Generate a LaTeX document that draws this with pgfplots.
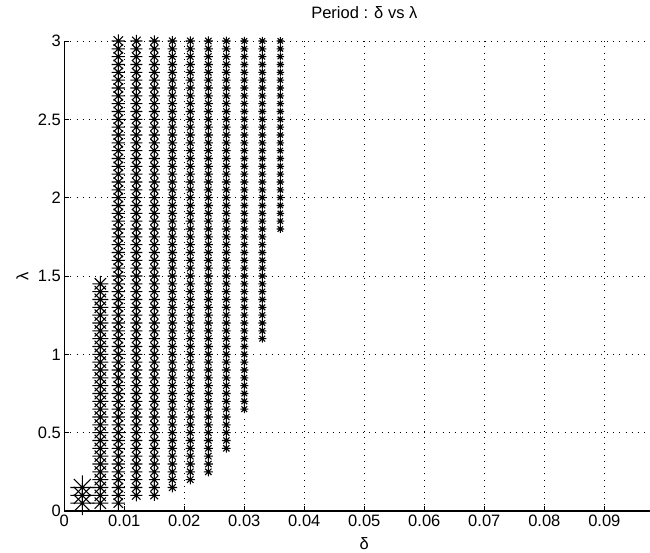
\documentclass[border=0pt]{standalone}
\usepackage{fontspec}
\setmainfont{Liberation Sans}
\usepackage{pgfplots}
\usepackage{pgfplotstable}
\pgfplotsset{compat=1.18}

% MATLAB style '*' marker: a plus and a cross on top of each other
\pgfdeclareplotmark{mstar}{%
  \pgfpathmoveto{\pgfqpoint{0pt}{\pgfplotmarksize}}%
  \pgfpathlineto{\pgfqpoint{0pt}{-\pgfplotmarksize}}%
  \pgfpathmoveto{\pgfqpoint{\pgfplotmarksize}{0pt}}%
  \pgfpathlineto{\pgfqpoint{-\pgfplotmarksize}{0pt}}%
  \pgfpathmoveto{\pgfqpoint{.707\pgfplotmarksize}{.707\pgfplotmarksize}}%
  \pgfpathlineto{\pgfqpoint{-.707\pgfplotmarksize}{-.707\pgfplotmarksize}}%
  \pgfpathmoveto{\pgfqpoint{-.707\pgfplotmarksize}{.707\pgfplotmarksize}}%
  \pgfpathlineto{\pgfqpoint{.707\pgfplotmarksize}{-.707\pgfplotmarksize}}%
  \pgfusepathqstroke}

\pgfplotsset{ms/.style={only marks, mark=mstar, mark size=#1, black,
    mark options={black, line width=1.1pt}}}

\begin{document}
% lambda, then the delta of each column (nan = no point)
\pgfplotstableread{
lam  d1    d2    d3    d4    d5    d6    d7    d8    d9    d10   d11   d12
0.05 0.003 0.006 0.009 nan   nan   nan   nan   nan   nan   nan   nan   nan
0.10 0.003 0.006 0.009 0.012 0.015 nan   nan   nan   nan   nan   nan   nan
0.15 0.003 0.006 0.009 0.012 0.015 0.018 nan   nan   nan   nan   nan   nan
0.20 nan   0.006 0.009 0.012 0.015 0.018 0.021 nan   nan   nan   nan   nan
0.25 nan   0.006 0.009 0.012 0.015 0.018 0.021 0.024 nan   nan   nan   nan
0.30 nan   0.006 0.009 0.012 0.015 0.018 0.021 0.024 nan   nan   nan   nan
0.35 nan   0.006 0.009 0.012 0.015 0.018 0.021 0.024 nan   nan   nan   nan
0.40 nan   0.006 0.009 0.012 0.015 0.018 0.021 0.024 0.027 nan   nan   nan
0.45 nan   0.006 0.009 0.012 0.015 0.018 0.021 0.024 0.027 nan   nan   nan
0.50 nan   0.006 0.009 0.012 0.015 0.018 0.021 0.024 0.027 nan   nan   nan
0.55 nan   0.006 0.009 0.012 0.015 0.018 0.021 0.024 0.027 nan   nan   nan
0.60 nan   0.006 0.009 0.012 0.015 0.018 0.021 0.024 0.027 nan   nan   nan
0.65 nan   0.006 0.009 0.012 0.015 0.018 0.021 0.024 0.027 0.030 nan   nan
0.70 nan   0.006 0.009 0.012 0.015 0.018 0.021 0.024 0.027 0.030 nan   nan
0.75 nan   0.006 0.009 0.012 0.015 0.018 0.021 0.024 0.027 0.030 nan   nan
0.80 nan   0.006 0.009 0.012 0.015 0.018 0.021 0.024 0.027 0.030 nan   nan
0.85 nan   0.006 0.009 0.012 0.015 0.018 0.021 0.024 0.027 0.030 nan   nan
0.90 nan   0.006 0.009 0.012 0.015 0.018 0.021 0.024 0.027 0.030 nan   nan
0.95 nan   0.006 0.009 0.012 0.015 0.018 0.021 0.024 0.027 0.030 nan   nan
1.00 nan   0.006 0.009 0.012 0.015 0.018 0.021 0.024 0.027 0.030 nan   nan
1.05 nan   0.006 0.009 0.012 0.015 0.018 0.021 0.024 0.027 0.030 nan   nan
1.10 nan   0.006 0.009 0.012 0.015 0.018 0.021 0.024 0.027 0.030 0.033 nan
1.15 nan   0.006 0.009 0.012 0.015 0.018 0.021 0.024 0.027 0.030 0.033 nan
1.20 nan   0.006 0.009 0.012 0.015 0.018 0.021 0.024 0.027 0.030 0.033 nan
1.25 nan   0.006 0.009 0.012 0.015 0.018 0.021 0.024 0.027 0.030 0.033 nan
1.30 nan   0.006 0.009 0.012 0.015 0.018 0.021 0.024 0.027 0.030 0.033 nan
1.35 nan   0.006 0.009 0.012 0.015 0.018 0.021 0.024 0.027 0.030 0.033 nan
1.40 nan   0.006 0.009 0.012 0.015 0.018 0.021 0.024 0.027 0.030 0.033 nan
1.45 nan   0.006 0.009 0.012 0.015 0.018 0.021 0.024 0.027 0.030 0.033 nan
1.50 nan   nan   0.009 0.012 0.015 0.018 0.021 0.024 0.027 0.030 0.033 nan
1.55 nan   nan   0.009 0.012 0.015 0.018 0.021 0.024 0.027 0.030 0.033 nan
1.60 nan   nan   0.009 0.012 0.015 0.018 0.021 0.024 0.027 0.030 0.033 nan
1.65 nan   nan   0.009 0.012 0.015 0.018 0.021 0.024 0.027 0.030 0.033 nan
1.70 nan   nan   0.009 0.012 0.015 0.018 0.021 0.024 0.027 0.030 0.033 nan
1.75 nan   nan   0.009 0.012 0.015 0.018 0.021 0.024 0.027 0.030 0.033 nan
1.80 nan   nan   0.009 0.012 0.015 0.018 0.021 0.024 0.027 0.030 0.033 0.036
1.85 nan   nan   0.009 0.012 0.015 0.018 0.021 0.024 0.027 0.030 0.033 0.036
1.90 nan   nan   0.009 0.012 0.015 0.018 0.021 0.024 0.027 0.030 0.033 0.036
1.95 nan   nan   0.009 0.012 0.015 0.018 0.021 0.024 0.027 0.030 0.033 0.036
2.00 nan   nan   0.009 0.012 0.015 0.018 0.021 0.024 0.027 0.030 0.033 0.036
2.05 nan   nan   0.009 0.012 0.015 0.018 0.021 0.024 0.027 0.030 0.033 0.036
2.10 nan   nan   0.009 0.012 0.015 0.018 0.021 0.024 0.027 0.030 0.033 0.036
2.15 nan   nan   0.009 0.012 0.015 0.018 0.021 0.024 0.027 0.030 0.033 0.036
2.20 nan   nan   0.009 0.012 0.015 0.018 0.021 0.024 0.027 0.030 0.033 0.036
2.25 nan   nan   0.009 0.012 0.015 0.018 0.021 0.024 0.027 0.030 0.033 0.036
2.30 nan   nan   0.009 0.012 0.015 0.018 0.021 0.024 0.027 0.030 0.033 0.036
2.35 nan   nan   0.009 0.012 0.015 0.018 0.021 0.024 0.027 0.030 0.033 0.036
2.40 nan   nan   0.009 0.012 0.015 0.018 0.021 0.024 0.027 0.030 0.033 0.036
2.45 nan   nan   0.009 0.012 0.015 0.018 0.021 0.024 0.027 0.030 0.033 0.036
2.50 nan   nan   0.009 0.012 0.015 0.018 0.021 0.024 0.027 0.030 0.033 0.036
2.55 nan   nan   0.009 0.012 0.015 0.018 0.021 0.024 0.027 0.030 0.033 0.036
2.60 nan   nan   0.009 0.012 0.015 0.018 0.021 0.024 0.027 0.030 0.033 0.036
2.65 nan   nan   0.009 0.012 0.015 0.018 0.021 0.024 0.027 0.030 0.033 0.036
2.70 nan   nan   0.009 0.012 0.015 0.018 0.021 0.024 0.027 0.030 0.033 0.036
2.75 nan   nan   0.009 0.012 0.015 0.018 0.021 0.024 0.027 0.030 0.033 0.036
2.80 nan   nan   0.009 0.012 0.015 0.018 0.021 0.024 0.027 0.030 0.033 0.036
2.85 nan   nan   0.009 0.012 0.015 0.018 0.021 0.024 0.027 0.030 0.033 0.036
2.90 nan   nan   0.009 0.012 0.015 0.018 0.021 0.024 0.027 0.030 0.033 0.036
2.95 nan   nan   0.009 0.012 0.015 0.018 0.021 0.024 0.027 0.030 0.033 0.036
3.00 nan   nan   0.009 0.012 0.015 0.018 0.021 0.024 0.027 0.030 0.033 0.036
}\periodtab
\begin{tikzpicture}
\begin{axis}[
    at={(0,0)}, anchor=south west,
    scale only axis, width=600pt, height=470pt,
    xmin=0, xmax=0.1, ymin=0, ymax=3,
    clip=false,
    unbounded coords=discard,
    axis x line*=bottom, axis y line*=left,
    axis line style={-, line width=1.1pt},
    tick align=inside, major tick length=5pt,
    tick style={black, line width=0.8pt},
    xtick={0,0.01,0.02,0.03,0.04,0.05,0.06,0.07,0.08,0.09},
    xticklabels={0,0.01,0.02,0.03,0.04,0.05,0.06,0.07,0.08,0.09},
    ytick={0,0.5,1,1.5,2,2.5,3},
    yticklabels={0,0.5,1,1.5,2,2.5,3},
    scaled ticks=false,
    /pgf/number format/assume math mode=true,
    tick label style={font=\fontsize{16.5}{19}\selectfont},
    grid=major,
    major grid style={black, line width=0.9pt, dash pattern=on 0.9pt off 5.2pt},
    title={Period : δ vs λ},
    title style={font=\fontsize{16.5}{19}\selectfont, at={(axis description cs:0.5,1)}, anchor=base, yshift=16pt, inner sep=0pt},
    xlabel={δ},
    xlabel style={font=\fontsize{16.5}{19}\selectfont, at={(axis description cs:0.5,0)}, anchor=base, yshift=-39pt, inner sep=0pt},
    ylabel={λ},
    ylabel style={font=\fontsize{16.5}{19}\selectfont, at={(axis description cs:0,0.5)}, anchor=center, yshift=42pt, inner sep=0pt},
  ]
  \addplot[ms=12pt]  table[x=d1,  y=lam] {\periodtab};
  \addplot[ms=8pt]   table[x=d2,  y=lam] {\periodtab};
  \addplot[ms=6.6pt] table[x=d3,  y=lam] {\periodtab};
  \addplot[ms=6pt]   table[x=d4,  y=lam] {\periodtab};
  \addplot[ms=5.5pt] table[x=d5,  y=lam] {\periodtab};
  \addplot[ms=4.8pt] table[x=d6,  y=lam] {\periodtab};
  \addplot[ms=4.6pt] table[x=d7,  y=lam] {\periodtab};
  \addplot[ms=4.5pt] table[x=d8,  y=lam] {\periodtab};
  \addplot[ms=4.4pt] table[x=d9,  y=lam] {\periodtab};
  \addplot[ms=4pt]   table[x=d10, y=lam] {\periodtab};
  \addplot[ms=4pt]   table[x=d11, y=lam] {\periodtab};
  \addplot[ms=3.8pt] table[x=d12, y=lam] {\periodtab};
\end{axis}
\pgfresetboundingbox
\path[use as bounding box] (-64.3pt,-42pt) rectangle (585.7pt,511pt);
\end{tikzpicture}
\end{document}
